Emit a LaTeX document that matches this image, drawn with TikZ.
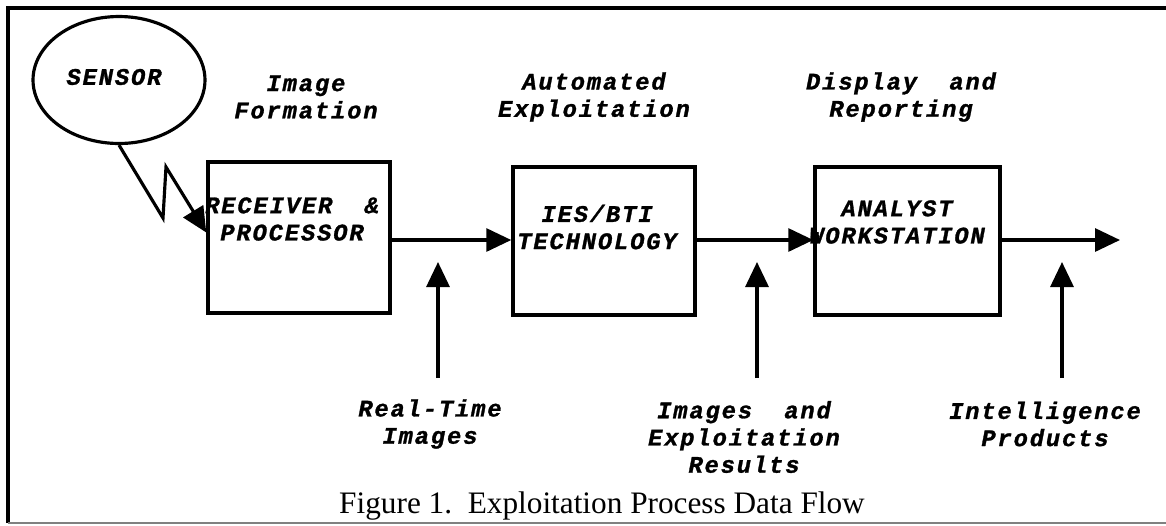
\documentclass[tikz,border=0pt]{standalone}
\usepackage{fontspec}
\newfontfamily\typefont[LetterSpace=8,FakeBold=1.2]{Liberation Mono}
\newfontfamily\capfont{Liberation Serif}
\usepackage{tikz}
\usetikzlibrary{shapes.geometric,arrows.meta,positioning,calc}

\begin{document}
\begin{tikzpicture}[x=0.02cm, y=-0.02cm,
    every node/.style={font=\typefont\bfseries\itshape\fontsize{13.5}{15.5}\selectfont, align=center, inner sep=0pt},
    stage/.style={draw, line width=2pt, minimum width=3.64cm, minimum height=2.96cm},
    flow/.style={line width=1.8pt, -{Triangle[length=0.5cm,width=0.46cm]}}]
    \useasboundingbox (0,0) rectangle (1166,525);
    % frame
    \draw[line width=1.8pt] (1166,8) -- (8,8) -- (8,523);
    \draw[gray, line width=0.6pt] (8,523) -- (1166,523);
    % sensor and stages
    \node[draw, ellipse, line width=1.8pt, minimum width=3.44cm, minimum height=2.54cm] (sensor) at (119,80) {};
    \node at (114,77) {SENSOR};
    \node[stage, minimum height=3.02cm] (recv) at (299,237.5) {};
    \node[stage] (ies) at (604,241) {};
    \node[stage, minimum width=3.7cm] (work) at (907.5,241) {};
    \node at (292,219) {RECEIVER~~\&\\PROCESSOR};
    \node at (597,227) {IES/BTI\\TECHNOLOGY};
    \node at (897,222) {ANALYST\\WORKSTATION};
    % phase labels
    \node at (306,97) {Image\\Formation};
    \node at (594,97) {Automated\\Exploitation};
    \node at (901,97) {Display~~and\\Reporting};
    % data labels
    \node (rt) at (430,424) {Real-Time\\Images};
    \node (res) at (744,437) {Images~~and\\Exploitation\\Results};
    \node (prod) at (1045,424) {Intelligence\\Products};
    \coordinate (rtfoot) at (438,378);
    \coordinate (resfoot) at (757,378);
    \coordinate (prodfoot) at (1062,378);
    \coordinate (out) at (1120,240);
    % connectors
    \draw[flow] (sensor.south) -- (163,218) -- (166,167) -- ([yshift=0.1cm]recv.west);
    \draw[flow] (recv.east |- 0,240) -- (ies.west |- 0,240);
    \draw[flow] (ies.east |- 0,240) -- (work.west |- 0,240);
    \draw[flow] (work.east |- 0,240) -- (out);
    \draw[flow] (rtfoot) -- (438,262);
    \draw[flow] (resfoot) -- (757,262);
    \draw[flow] (prodfoot) -- (1062,262);
    \node[font=\capfont\fontsize{17.8}{20}\selectfont] (cap) at (602,506) {Figure 1.\ \ Exploitation Process Data Flow};
\end{tikzpicture}
\end{document}
